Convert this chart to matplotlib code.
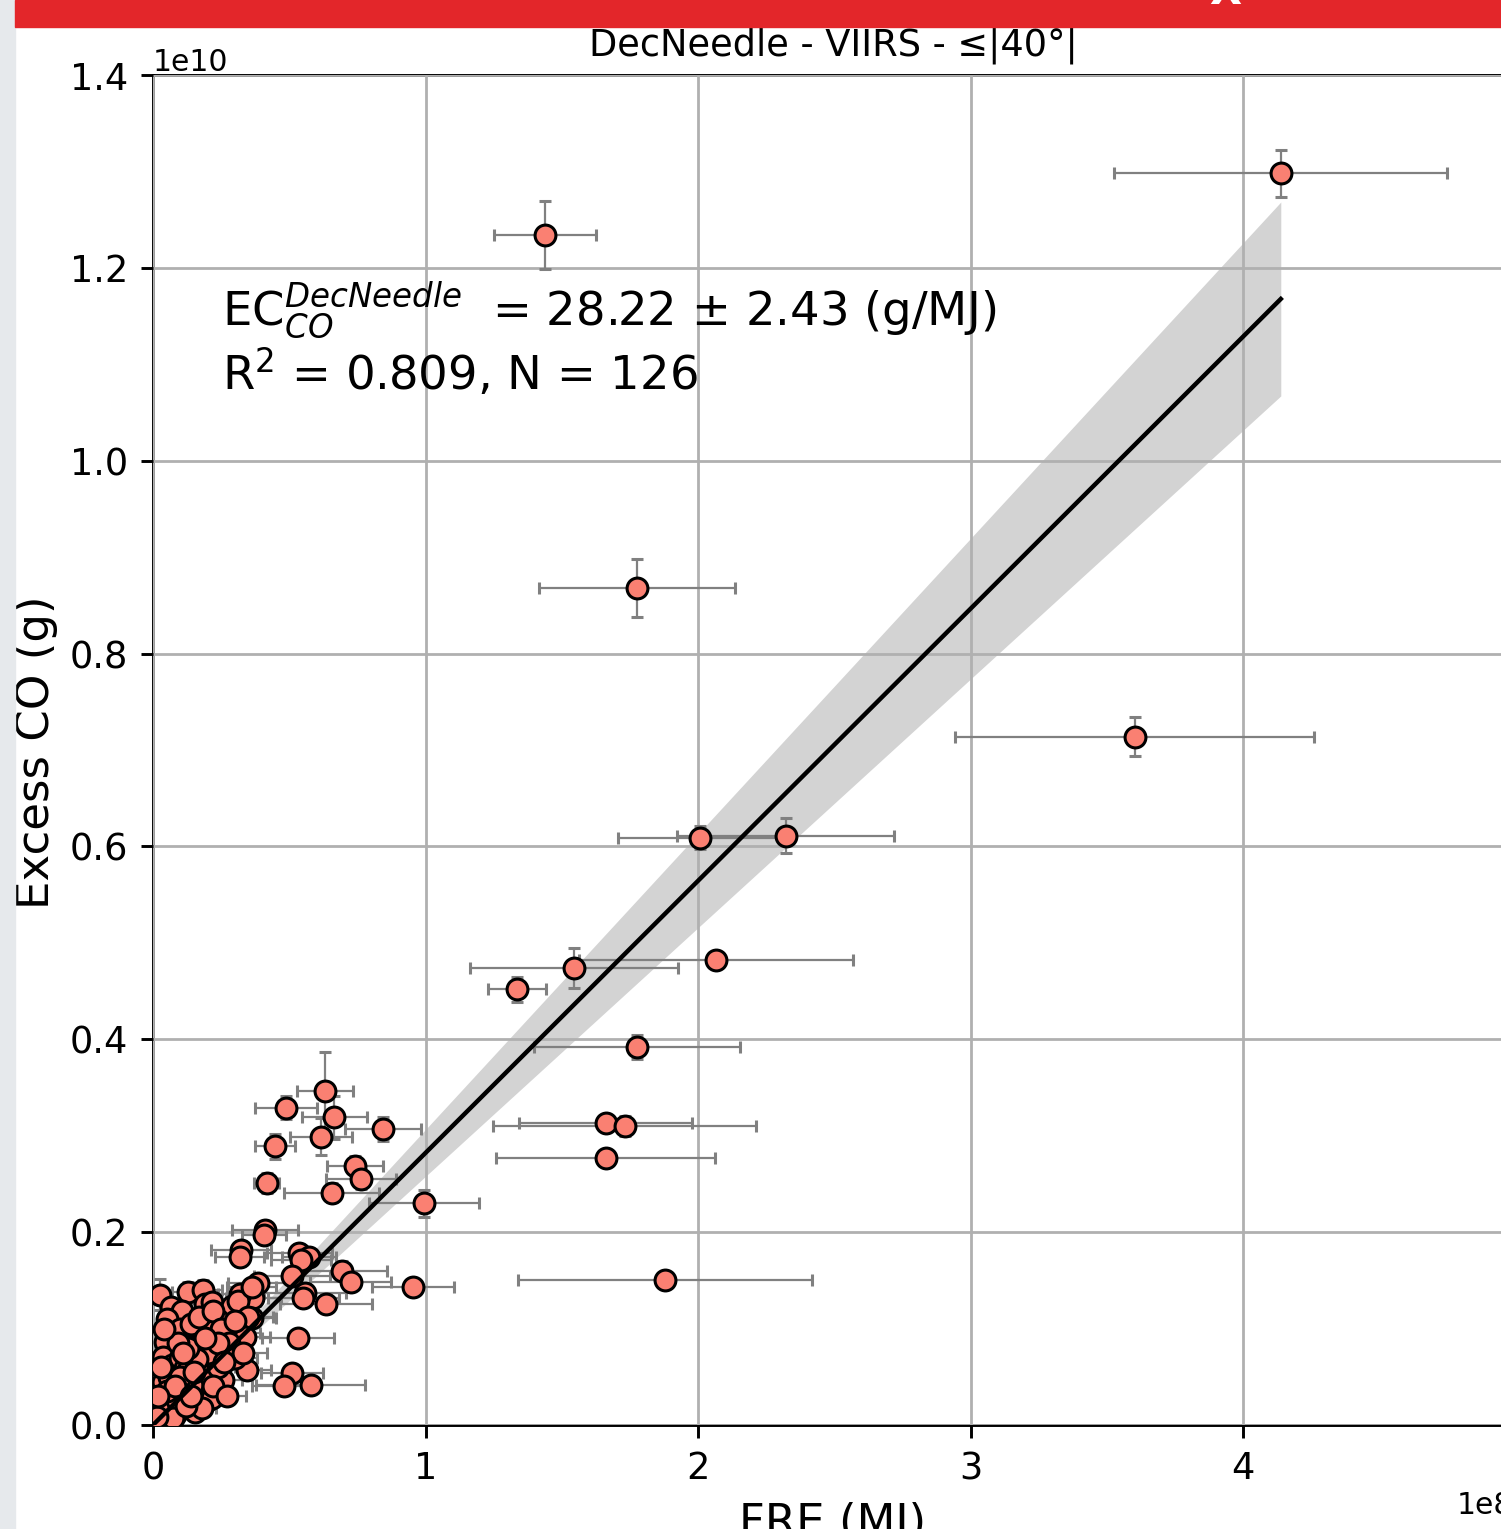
import numpy as np
import matplotlib
matplotlib.use("Agg")
import matplotlib.pyplot as plt
from matplotlib.patches import Rectangle

# ---- data (FRE in 1e8 MJ, Excess CO in 1e10 g) ----
fre = [4.138, 1.438, 1.776, 3.602, 2.007, 2.321, 1.544, 2.066, 1.335, 1.775,
       1.661, 1.730, 1.661, 1.878,
       0.993, 0.954, 0.845, 0.631, 0.488, 0.665, 0.616, 0.448, 0.741, 0.763,
       0.418, 0.655, 0.411, 0.407,
       0.323, 0.319, 0.537, 0.573, 0.542, 0.509, 0.692, 0.725, 0.558, 0.551,
       0.635, 0.386, 0.368, 0.362, 0.533, 0.509, 0.482, 0.578,
       0.026, 0.129, 0.185, 0.191, 0.215, 0.066, 0.105, 0.319, 0.289, 0.313,
       0.350, 0.239, 0.362,
       0.069, 0.044, 0.154, 0.172, 0.221, 0.276, 0.313, 0.338, 0.038, 0.069,
       0.099, 0.209, 0.270, 0.344, 0.258, 0.191, 0.117, 0.038, 0.062, 0.117,
       0.160, 0.203, 0.154, 0.081, 0.026, 0.026, 0.094, 0.117, 0.142,
       0.136, 0.128, 0.216, 0.088, 0.073, 0.015,
       0.05, 0.10, 0.14, 0.17, 0.22, 0.25, 0.28, 0.30, 0.24, 0.20,
       0.16, 0.13, 0.09, 0.06, 0.03, 0.10, 0.15, 0.22, 0.27, 0.18,
       0.12, 0.05, 0.08, 0.24, 0.30, 0.33, 0.02, 0.11, 0.19, 0.26,
       0.04, 0.14]
co = [1.298, 1.234, 0.868, 0.714, 0.609, 0.611, 0.474, 0.482, 0.452, 0.392,
      0.313, 0.310, 0.277, 0.150,
      0.230, 0.143, 0.307, 0.346, 0.329, 0.319, 0.299, 0.289, 0.269, 0.255,
      0.251, 0.241, 0.202, 0.197,
      0.181, 0.174, 0.178, 0.174, 0.171, 0.155, 0.160, 0.148, 0.137, 0.132,
      0.126, 0.147, 0.132, 0.111, 0.090, 0.054, 0.040, 0.041,
      0.135, 0.138, 0.140, 0.126, 0.128, 0.122, 0.118, 0.136, 0.123, 0.129,
      0.112, 0.109, 0.143,
      0.093, 0.086, 0.093, 0.085, 0.097, 0.100, 0.095, 0.091, 0.071, 0.062,
      0.069, 0.064, 0.076, 0.057, 0.047, 0.052, 0.045, 0.045, 0.028, 0.035,
      0.031, 0.026, 0.014, 0.010, 0.014, 0.021, 0.021, 0.059, 0.041,
      0.081, 0.057, 0.028, 0.026, 0.007, 0.008,
      0.110, 0.100, 0.105, 0.112, 0.118, 0.100, 0.085, 0.070, 0.060, 0.075,
      0.068, 0.080, 0.085, 0.050, 0.060, 0.050, 0.055, 0.040, 0.030, 0.018,
      0.020, 0.035, 0.040, 0.085, 0.108, 0.075, 0.030, 0.075, 0.090, 0.065,
      0.100, 0.030]
fre_err = [0.611, 0.187, 0.358, 0.658, 0.300, 0.397, 0.381, 0.503, 0.107, 0.378,
           0.317, 0.481, 0.402, 0.539,
           0.202, 0.150, 0.140, 0.103, 0.112, 0.120, 0.113, 0.073, 0.103, 0.127,
           0.046, 0.174, 0.121, 0.080,
           0.11, 0.09, 0.12, 0.10, 0.11, 0.14, 0.165, 0.15, 0.15, 0.13,
           0.17, 0.11, 0.10, 0.09, 0.132, 0.114, 0.12, 0.20,
           0.04, 0.06, 0.07, 0.05, 0.06, 0.04, 0.05, 0.08, 0.07, 0.08,
           0.09, 0.06, 0.09,
           0.04, 0.03, 0.05, 0.05, 0.06, 0.07, 0.08, 0.09, 0.03, 0.04,
           0.04, 0.06, 0.07, 0.09, 0.07, 0.05, 0.04, 0.03, 0.04, 0.05,
           0.06, 0.05, 0.03, 0.02, 0.02, 0.03, 0.04, 0.04, 0.05,
           0.05, 0.04, 0.06, 0.03, 0.03, 0.02,
           0.03, 0.04, 0.05, 0.05, 0.06, 0.06, 0.07, 0.08, 0.06, 0.05,
           0.05, 0.04, 0.03, 0.03, 0.02, 0.04, 0.05, 0.06, 0.07, 0.05,
           0.04, 0.02, 0.03, 0.06, 0.08, 0.09, 0.02, 0.04, 0.05, 0.07,
           0.03, 0.04]
co_err = [0.024, 0.035, 0.030, 0.020, 0.012, 0.018, 0.021, 0.008, 0.013, 0.012,
          0.008, 0.010, 0.006, 0.006,
          0.014, 0.008, 0.012, 0.041, 0.012, 0.022, 0.019, 0.013, 0.010, 0.010,
          0.010, 0.010, 0.010, 0.008,
          0.010, 0.009, 0.010, 0.008, 0.009, 0.008, 0.010, 0.008, 0.009, 0.008,
          0.009, 0.008, 0.007, 0.007, 0.008, 0.005, 0.006, 0.005,
          0.016, 0.010, 0.010, 0.008, 0.008, 0.008, 0.008, 0.008, 0.008, 0.008,
          0.007, 0.007, 0.008,
          0.007, 0.006, 0.007, 0.006, 0.007, 0.007, 0.007, 0.008, 0.005, 0.005,
          0.005, 0.006, 0.006, 0.006, 0.005, 0.005, 0.004, 0.003, 0.004, 0.004,
          0.004, 0.003, 0.003, 0.003, 0.003, 0.003, 0.004, 0.004, 0.005,
          0.006, 0.005, 0.004, 0.003, 0.002, 0.002,
          0.008, 0.008, 0.008, 0.008, 0.009, 0.008, 0.007, 0.006, 0.005, 0.006,
          0.006, 0.007, 0.007, 0.004, 0.005, 0.004, 0.005, 0.004, 0.003, 0.002,
          0.002, 0.003, 0.003, 0.007, 0.008, 0.006, 0.003, 0.006, 0.007, 0.005,
          0.008, 0.003]

slope = 28.22       # g/MJ
slope_err = 2.43
r2 = 0.809
n_pts = 126
title = "DecNeedle - VIIRS - ≤|40°|"
xticks = [0, 1, 2, 3, 4]
yticks = [0.0, 0.2, 0.4, 0.6, 0.8, 1.0, 1.2, 1.4]

X = np.array(fre) * 1e8
Y = np.array(co) * 1e10
XE = np.array(fre_err) * 1e8
YE = np.array(co_err) * 1e10

W, H = 1501, 1529
fig = plt.figure(figsize=(W / 100, H / 100), dpi=100)

# screenshot frame elements
fig.patches.append(Rectangle((0, 0), 15 / W, 1, transform=fig.transFigure,
                             color='#e6e9ec', zorder=0))
fig.patches.append(Rectangle((15 / W, 1 - 27 / H), 1, 27 / H,
                             transform=fig.transFigure, color='#e3262a', zorder=0))
fig.text(1225 / W, 1 + 8 / H, "X", color='white', fontsize=30, fontweight='bold',
         ha='center', va='center')

ax = fig.add_axes([153 / W, 1 - 1425 / H, 1360 / W, 1350 / H])

xfit = np.array([0, X.max()])
ax.fill_between(xfit, (slope - slope_err) * xfit, (slope + slope_err) * xfit,
                color='lightgrey', linewidth=0, zorder=1)
ax.errorbar(X, Y, xerr=XE, yerr=YE, fmt='o', color='salmon', mfc='salmon',
            mec='black', mew=2.2, ms=15, ecolor='grey', elinewidth=1.6,
            capsize=4.5, capthick=2.2, zorder=3)
ax.plot(xfit, slope * xfit, color='black', lw=3.2, zorder=4)

ax.set_xlim(0, 4.99e8)
ax.set_ylim(0, 1.4e10)
ax.set_xticks([v * 1e8 for v in xticks])
ax.set_yticks([v * 1e10 for v in yticks])
ax.grid(True, color='#b0b0b0', lw=2)
ax.set_axisbelow(False)
for s in ax.spines.values():
    s.set_linewidth(2.1)
ax.tick_params(labelsize=26.5, length=9, width=2.1, pad=9)
ax.xaxis.get_offset_text().set_fontsize(21.5)
ax.yaxis.get_offset_text().set_fontsize(21.5)

ax.set_title(title, fontsize=26.5, pad=14)
ax.set_xlabel("FRE (MJ)", fontsize=32.5, labelpad=11)
ax.set_ylabel("Excess CO (g)", fontsize=32.5)
ax.yaxis.set_label_coords(-0.07, 0.498)

ax.text(0.0507, 0.815, "EC$_{CO}^{DecNeedle}$  = %.2f ± %.2f (g/MJ)" % (slope, slope_err),
        transform=ax.transAxes, fontsize=33.5, va='baseline', ha='left')
ax.text(0.0507, 0.767, "R$^2$ = %.3f, N = %d" % (r2, n_pts),
        transform=ax.transAxes, fontsize=33.5, va='baseline', ha='left')

fig.savefig("out.png", dpi=100)
